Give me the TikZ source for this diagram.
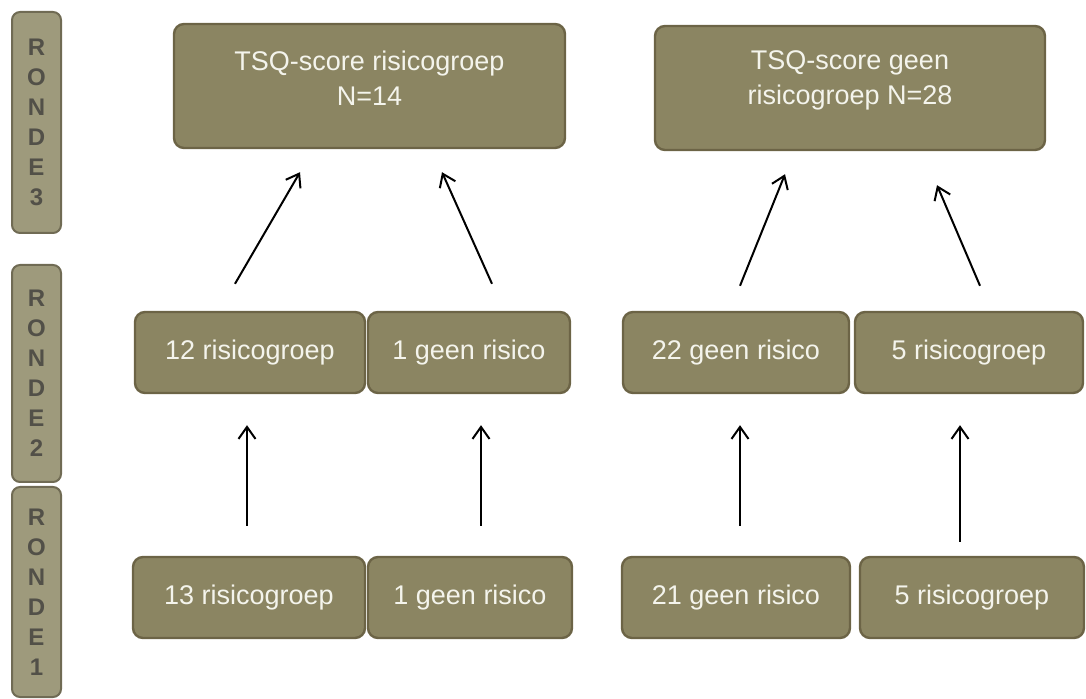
\documentclass[tikz,border=0pt]{standalone}
\usepackage{fontspec}
\setmainfont{Liberation Sans}
\usetikzlibrary{arrows.meta,calc}

\definecolor{boxfill}{RGB}{139,133,98}
\definecolor{boxline}{RGB}{108,100,70}
\definecolor{barfill}{RGB}{158,154,124}
\definecolor{barline}{RGB}{112,107,84}
\definecolor{bartext}{RGB}{82,80,72}
\definecolor{boxtext}{RGB}{244,244,236}

\begin{document}
\begin{tikzpicture}[x=0.5pt, y=-0.5pt,
    box/.style={rectangle, rounded corners=5pt, fill=boxfill,
                draw=boxline, line width=1.2pt, text=boxtext,
                font=\fontsize{13.5}{17.5}\selectfont, align=center},
    rondebar/.style={rectangle, rounded corners=4pt, fill=barfill,
                draw=barline, line width=1pt, text=bartext,
                minimum width=24.5pt, align=center,
                font=\fontsize{12}{15}\selectfont\bfseries},
    arr/.style={-{Straight Barb[length=6pt,width=8.5pt]}, line width=1pt}]

\useasboundingbox (0,0) rectangle (1086,699);

% rondes links
\node[rondebar, minimum height=110.5pt] (rondeC) at (36.5,122.5) {R\\O\\N\\D\\E\\3};
\node[rondebar, minimum height=108.5pt] (rondeB) at (36.5,373.5) {R\\O\\N\\D\\E\\2};
\node[rondebar, minimum height=105pt] (rondeA) at (36.5,592) {R\\O\\N\\D\\E\\1};

% ronde 3
\node[box, minimum width=195.5pt, minimum height=62pt,
      label={[box, draw=none, fill=none, yshift=3.75pt]center:{TSQ-score risicogroep\\N=14}}]
      (thrA) at (369.5,86) {};
\node[box, minimum width=195pt, minimum height=62pt,
      label={[box, draw=none, fill=none, yshift=3.75pt]center:{TSQ-score geen\\risicogroep N=28}}]
      (thrB) at (850,88) {};

% ronde 2
\foreach \n/\x/\w/\t in {A/250/230/12 risicogroep, B/469/202/1 geen risico,
                         C/736/226/22 geen risico, D/969/228/5 risicogroep} {
    \node[box, minimum width=\w*0.5pt, minimum height=40.5pt] (two\n) at (\x,352.5) {\t};
}

% ronde 1
\foreach \n/\x/\w/\t in {A/249/232/13 risicogroep, B/470/204/1 geen risico,
                         C/736/228/21 geen risico, D/972/224/5 risicogroep} {
    \node[box, minimum width=\w*0.5pt, minimum height=40.5pt] (one\n) at (\x,597.5) {\t};
}

% pijlen ronde 2 -> ronde 3
\draw[arr] ($(twoA.north)+(-15,-27)$) -- ($(thrA.south)+(-69.5,23)$);
\draw[arr] ($(twoB.north)+(23,-27)$) -- ($(thrA.south)+(72.5,23)$);
\draw[arr] ($(twoC.north)+(4,-25)$) -- ($(thrB.south)+(-65,23)$);
\draw[arr] ($(twoD.north)+(11,-25)$) -- ($(thrB.south)+(87,34)$);

% pijlen ronde 1 -> ronde 2
\draw[arr] ($(oneA.north)+(-2,-30)$) -- ($(twoA.south)+(-3,31)$);
\draw[arr] ($(oneB.north)+(11,-30)$) -- ($(twoB.south)+(12,31)$);
\draw[arr] ($(oneC.north)+(4,-30)$) -- ($(twoC.south)+(4,31)$);
\draw[arr] ($(oneD.north)+(-12,-14)$) -- ($(twoD.south)+(-9,31)$);
\end{tikzpicture}
\end{document}
